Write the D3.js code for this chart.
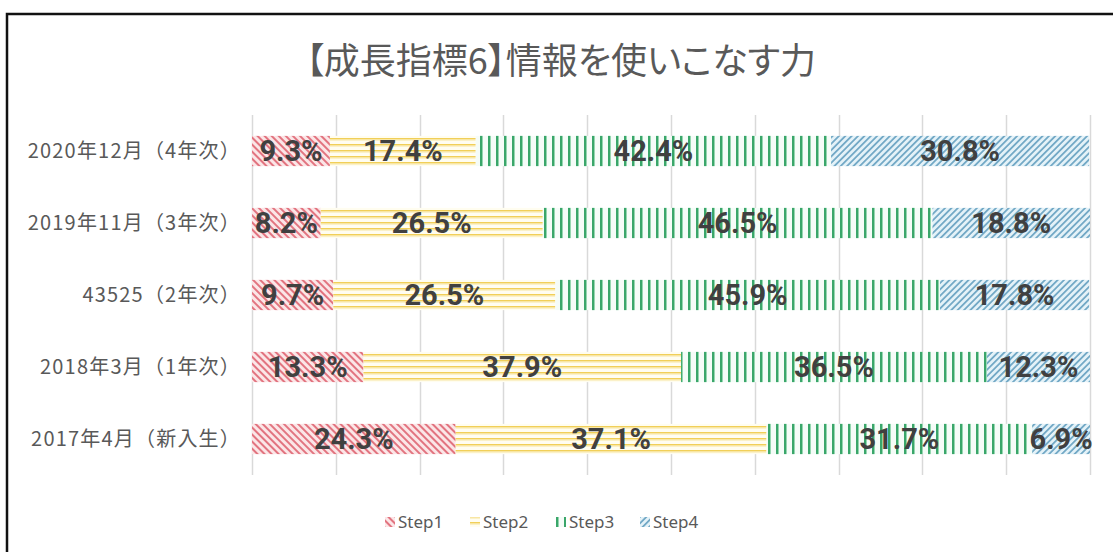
<!DOCTYPE html>
<html>
<head>
<meta charset="utf-8">
<script src="https://cdn.jsdelivr.net/npm/d3@7"></script>
<style>
  body { margin: 0; background: #fff; }
  svg { display: block; }
</style>
</head>
<body>
<svg id="chart"></svg>
<script>
// data
var categories = [
  "2020年12月（4年次）",
  "2019年11月（3年次）",
  "43525（2年次）",
  "2018年3月（1年次）",
  "2017年4月（新入生）"
];
var seriesNames = ["Step1", "Step2", "Step3", "Step4"];
var step1 = [9.3, 8.2, 9.7, 13.3, 24.3];
var step2 = [17.4, 26.5, 26.5, 37.9, 37.1];
var step3 = [42.4, 46.5, 45.9, 36.5, 31.7];
var step4 = [30.8, 18.8, 17.8, 12.3, 6.9];
var gridTicks = [0, 10, 20, 30, 40, 50, 60, 70, 80, 90, 100];

var width = 1113, height = 552;
var margin = { top: 115, right: 23, bottom: 77, left: 252 };

var svg = d3.select("#chart").attr("width", width).attr("height", height);

// patterns
var defs = svg.append("defs");

function addPattern(id, w, h, bg, lines, rotate) {
  var p = defs.append("pattern")
    .attr("id", id)
    .attr("patternUnits", "userSpaceOnUse")
    .attr("width", w)
    .attr("height", h);
  if (rotate) p.attr("patternTransform", "rotate(" + rotate + ")");
  p.append("rect").attr("width", w).attr("height", h).attr("fill", bg);
  lines.forEach(function (l) {
    p.append("rect")
      .attr("x", l.x).attr("y", l.y)
      .attr("width", l.w).attr("height", l.h)
      .attr("fill", l.c);
  });
}

// Step1: red "\" stripes
addPattern("pat1", 5, 5, "#fbe6e7", [{ x: 0, y: 0, w: 2, h: 5, c: "#e27480" }], -45);
// Step2: gold horizontal lines
addPattern("pat2", 6, 6, "#fffdf0", [
  { x: 0, y: 0, w: 6, h: 1.5, c: "#f1cf58" },
  { x: 0, y: 1.5, w: 6, h: 1, c: "#f8e6a2" }
], 0);
// Step3: green vertical lines
addPattern("pat3", 8, 8, "#f5fcf8", [
  { x: 0, y: 0, w: 2, h: 8, c: "#3aa66a" },
  { x: 2, y: 0, w: 1, h: 8, c: "#95d6b0" }
], 0);
// Step4: blue "/" stripes
addPattern("pat4", 4.5, 4.5, "#e4f2f8", [{ x: 0, y: 0, w: 1.8, h: 4.5, c: "#73a9c6" }], 45);

var patternIds = ["url(#pat1)", "url(#pat2)", "url(#pat3)", "url(#pat4)"];

// outer border (only top and left visible)
svg.append("path")
  .attr("d", "M7,552 V14 H1113")
  .attr("fill", "none")
  .attr("stroke", "#111")
  .attr("stroke-width", 2.5);

// title
svg.append("text")
  .attr("x", 561)
  .attr("y", 74)
  .attr("text-anchor", "middle")
  .style("font-family", "'Noto Sans CJK JP', sans-serif")
  .style("font-size", "36px")
  .style("font-feature-settings", "'palt'")
  .style("fill", "#595959")
  .text("【成長指標6】情報を使いこなす力");

// scales
var x = d3.scaleLinear()
  .domain([0, 100])
  .range([margin.left, width - margin.right]);

var y = d3.scaleBand()
  .domain(categories)
  .range([margin.top, height - margin.bottom])
  .paddingInner(0.58)
  .paddingOuter(0.29);

// grid
svg.append("g")
  .selectAll("line")
  .data(gridTicks)
  .enter()
  .append("line")
  .attr("x1", function (d) { return Math.round(x(d)) + 0.5; })
  .attr("x2", function (d) { return Math.round(x(d)) + 0.5; })
  .attr("y1", margin.top)
  .attr("y2", height - margin.bottom)
  .attr("stroke", "#d9d9d9")
  .attr("stroke-width", 1.5);

// stacked data
var rows = categories.map(function (c, i) {
  return { cat: c, Step1: step1[i], Step2: step2[i], Step3: step3[i], Step4: step4[i] };
});
var stacked = d3.stack().keys(seriesNames)(rows);

var layers = svg.append("g")
  .selectAll("g")
  .data(stacked)
  .enter()
  .append("g")
  .attr("fill", function (d, i) { return patternIds[i]; });

layers.selectAll("rect")
  .data(function (d) { return d; })
  .enter()
  .append("rect")
  .attr("x", function (d) { return x(d[0]); })
  .attr("y", function (d) { return y(d.data.cat); })
  .attr("width", function (d) { return x(d[1]) - x(d[0]); })
  .attr("height", y.bandwidth());

// value labels
var labels = svg.append("g");
stacked.forEach(function (layer) {
  layer.forEach(function (d) {
    labels.append("text")
      .attr("x", (x(d[0]) + x(d[1])) / 2)
      .attr("y", y(d.data.cat) + y.bandwidth() / 2)
      .attr("dy", "0.36em")
      .attr("text-anchor", "middle")
      .style("font-family", "Roboto, sans-serif")
      .style("font-weight", "bold")
      .style("font-size", "29px")
      .style("fill", "#404040")
      .text(d3.format(".1f")(d[1] - d[0]) + "%");
  });
});

// category axis labels
svg.append("g")
  .selectAll("text")
  .data(categories)
  .enter()
  .append("text")
  .attr("x", 241)
  .attr("y", function (d) { return y(d) + y.bandwidth() / 2; })
  .attr("dy", "0.35em")
  .attr("text-anchor", "end")
  .style("font-family", "'Noto Sans CJK JP', sans-serif")
  .style("font-size", "20px")
  .style("letter-spacing", "1.2px")
  .style("fill", "#595959")
  .text(function (d) { return d; });

// legend
var legendX = [385, 470, 556, 640];
var legend = svg.append("g")
  .selectAll("g")
  .data(seriesNames)
  .enter()
  .append("g")
  .attr("transform", function (d, i) { return "translate(" + legendX[i] + ",522)"; });

legend.append("rect")
  .attr("x", 0)
  .attr("y", -5)
  .attr("width", 10)
  .attr("height", 10)
  .attr("fill", function (d, i) { return patternIds[i]; });

legend.append("text")
  .attr("x", 13)
  .attr("dy", "0.35em")
  .style("font-family", "'Noto Sans', sans-serif")
  .style("font-size", "17px")
  .style("fill", "#595959")
  .text(function (d) { return d; });
</script>
</body>
</html>
